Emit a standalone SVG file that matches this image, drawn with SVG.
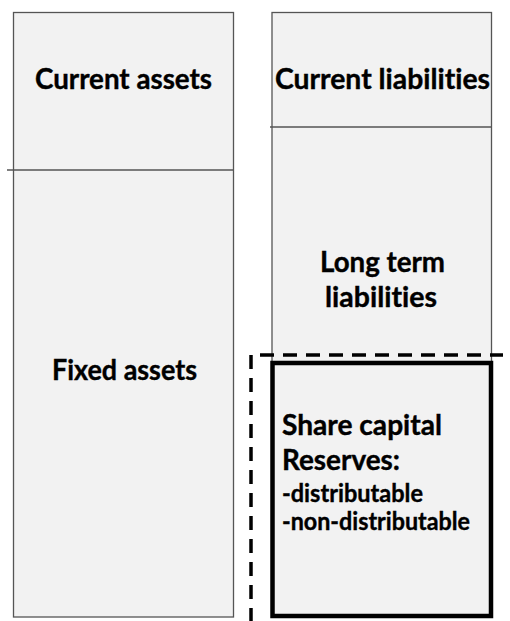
<svg xmlns="http://www.w3.org/2000/svg" width="510" height="621" viewBox="0 0 510 621">
  <style>
    .box { fill: #f2f2f2; stroke: #555555; stroke-width: 1.3; }
    .div { stroke: #555555; stroke-width: 1.3; fill: none; }
    .lbl { font-family: Lato, "Liberation Sans", sans-serif; font-weight: bold; font-size: 29px; fill: #000000; font-variant-ligatures: none; stroke: #000000; stroke-width: 0.4; }
    .sm { font-size: 25px; }
    .mid { text-anchor: middle; }
  </style>
  <rect width="510" height="621" fill="#ffffff"/>
  <g id="assets">
    <rect class="box" x="13.5" y="12.5" width="220" height="604.5"/>
    <line class="div" x1="7" y1="170" x2="233.5" y2="170"/>
  </g>
  <g id="current-assets">
    <text class="lbl mid" x="123.5" y="89" textLength="177" lengthAdjust="spacingAndGlyphs">Current assets</text>
  </g>
  <g id="fixed-assets">
    <text class="lbl mid" x="124.5" y="380" textLength="145" lengthAdjust="spacingAndGlyphs">Fixed assets</text>
  </g>
  <g id="liabilities">
    <rect class="box" x="272" y="12.5" width="219.5" height="350"/>
    <line class="div" x1="270" y1="127" x2="491.5" y2="127"/>
  </g>
  <g id="current-liabilities">
    <text class="lbl mid" x="382.5" y="89" textLength="215" lengthAdjust="spacingAndGlyphs">Current liabilities</text>
  </g>
  <g id="long-term-liabilities">
    <text class="lbl mid" x="382.5" y="272" textLength="125" lengthAdjust="spacingAndGlyphs">Long term</text>
    <text class="lbl mid" x="381" y="307" textLength="112" lengthAdjust="spacingAndGlyphs">liabilities</text>
  </g>
  <g id="equity">
    <rect x="272.5" y="363" width="218.5" height="253" fill="#f2f2f2" stroke="#000000" stroke-width="4.5"/>
    <text class="lbl" x="282" y="435" textLength="160" lengthAdjust="spacingAndGlyphs">Share capital</text>
    <text class="lbl" x="282" y="470" textLength="118" lengthAdjust="spacingAndGlyphs">Reserves:</text>
    <text class="lbl sm" x="282" y="502" textLength="141" lengthAdjust="spacingAndGlyphs">-distributable</text>
    <text class="lbl sm" x="282" y="530" textLength="188" lengthAdjust="spacingAndGlyphs">-non-distributable</text>
  </g>
  <g id="connectors">
    <path d="M251,622 V355 H503" fill="none" stroke="#000000" stroke-width="3.5" stroke-dasharray="14 9"/>
  </g>
</svg>
